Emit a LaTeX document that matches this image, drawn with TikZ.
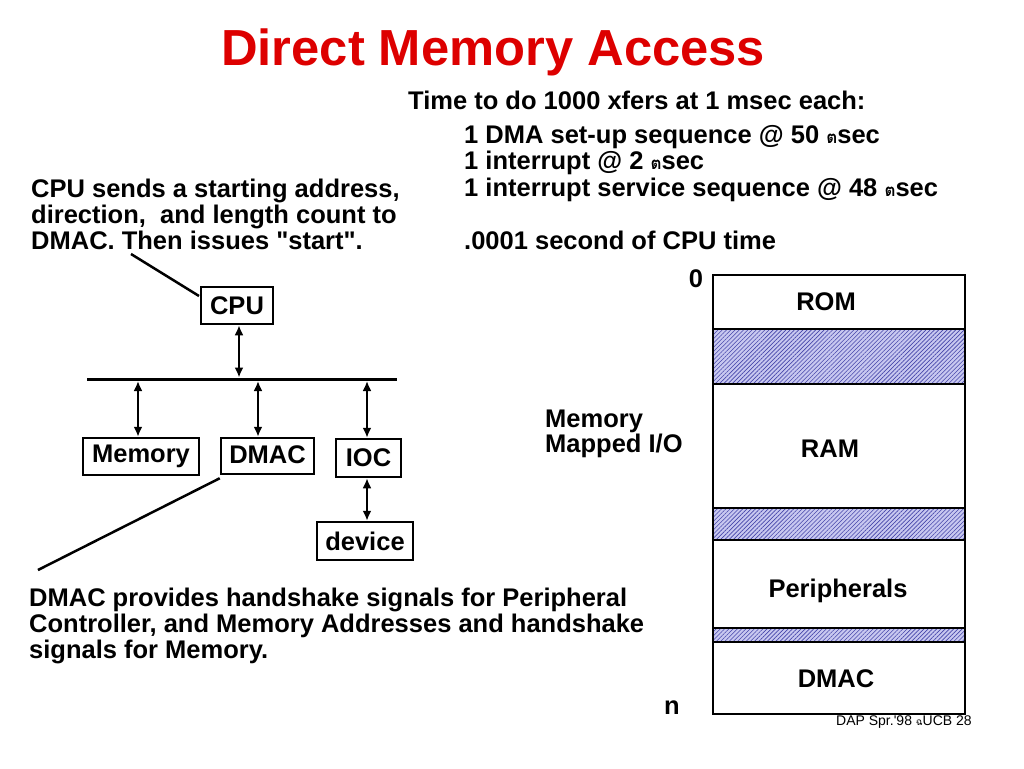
\documentclass[tikz,border=0pt]{standalone}
\usepackage{fontspec}
\setmainfont{Liberation Sans}
\newfontfamily\thaifont[Script=Thai]{Loma}
\usetikzlibrary{arrows.meta,patterns.meta}
\definecolor{titlered}{RGB}{221,0,0}
\definecolor{hatchbg}{RGB}{200,200,240}
\definecolor{hatchln}{RGB}{70,70,170}
\newcommand{\mychar}{{\thaifont\fontsize{17}{17}\selectfont ต}}
\tikzset{
  txt/.style={anchor=base west, inner sep=0pt, font=\bfseries\fontsize{25.5}{26}\selectfont},
  ctxt/.style={anchor=base, inner sep=0pt, font=\bfseries\fontsize{25.5}{26}\selectfont},
  blk/.style={draw, line width=2.5pt, inner sep=0pt, font=\bfseries\fontsize{25.5}{26}\selectfont},
  dbl/.style={line width=2.5pt, {Latex[length=10pt,width=9pt]}-{Latex[length=10pt,width=9pt]}},
  callout/.style={line width=2.5pt},
  hatch/.style={fill=hatchbg, postaction={pattern={Lines[angle=45,distance=3pt,line width=0.6pt]}, pattern color=hatchln}},
  frame/.style={draw, line width=2.5pt}
}
\begin{document}
\begin{tikzpicture}[x=1pt,y=-1pt]
\useasboundingbox[fill=white] (0,0) rectangle (1024,768);

% title
\node[anchor=base west, inner sep=0pt, text=titlered, font=\bfseries\fontsize{50.7}{52}\selectfont] (title) at (221,65) {Direct Memory Access};

% top-right text
\node[txt] (t1) at (408,109) {Time to do 1000 xfers at 1 msec each:};
\node[txt] (t2) at (464,143) {1 DMA set-up sequence @ 50 \mychar sec};
\node[txt] (t3) at (464,169) {1 interrupt @ 2 \mychar sec};
\node[txt] (t4) at (464,196) {1 interrupt service sequence @ 48 \mychar sec};
\node[txt] (t5) at (464,249) {.0001 second of CPU time};

% top-left paragraph
\node[txt] (p1) at (31,197) {CPU sends a starting address,};
\node[txt] (p2) at (31,223) {direction,\ \ and length count to};
\node[txt] (p3) at (31,249) {DMAC. Then issues \textquotedbl start\textquotedbl .};

% bottom paragraph
\node[txt] (q1) at (29,606) {DMAC provides handshake signals for Peripheral};
\node[txt] (q2) at (29,632) {Controller, and Memory Addresses and handshake};
\node[txt] (q3) at (29,658) {signals for Memory.};

% block diagram
\node[blk, minimum width=72pt, minimum height=37pt] (cpu) at (237,305.5) {CPU};
\node[blk, minimum width=116pt, minimum height=37pt] (mem) at (141,456.5) {Memory};
\node[blk, minimum width=93pt, minimum height=36pt] (dmac) at (267.5,456) {\raisebox{3pt}{DMAC}};
\node[blk, minimum width=65pt, minimum height=38pt] (ioc) at (368.5,458) {IOC};
\node[blk, minimum width=96pt, minimum height=38pt] (dev) at (365,541) {device};

\coordinate (busL) at (87,379);
\coordinate (busR) at (397,379);
\draw[line width=3pt] (busL) -- (busR);

\coordinate (bC) at (239,377.5);
\coordinate (bM) at (138,381);
\coordinate (bD) at (258,381);
\coordinate (bI) at (367,381);
\draw[dbl] (bC |- cpu.south) -- (bC);
\draw[dbl] (bM) -- (bM |- mem.north);
\draw[dbl] (bD) -- (bD |- dmac.north);
\draw[dbl] (bI) -- (bI |- ioc.north);
\draw[dbl] (bI |- ioc.south) -- (bI |- dev.north);

% callouts
\coordinate (c1) at (131,254);
\coordinate (c1e) at (199,296);
\draw[callout] (c1) -- (c1e);
\coordinate (c2) at (38,570);
\draw[callout] ([yshift=-3pt]dmac.south west) -- (c2);

% memory map
\fill[hatch] (713,329) rectangle (965,384);
\fill[hatch] (713,508) rectangle (965,540);
\fill[hatch] (713,628) rectangle (965,642);
\draw[frame] (713,275) rectangle (965,714);
\foreach \yy in {329,384,508,540,628,642} \draw[line width=2.5pt] (713,\yy) -- (965,\yy);

\node[ctxt] (rom) at (826,310) {ROM};
\node[ctxt] (ram) at (830,457) {RAM};
\node[ctxt] (per) at (838,597) {Peripherals};
\node[ctxt] (dm2) at (836,687) {DMAC};
\node[ctxt] (zero) at (696,287) {0};
\node[ctxt] (enn) at (672,714) {n};

\node[txt] (mm1) at (545,427) {Memory};
\node[txt] (mm2) at (545,452) {Mapped I/O};

% footer
\node[anchor=base west, inner sep=0pt, font=\fontsize{14}{14}\selectfont] (foot) at (836,725) {DAP Spr.\textquotesingle 98 {\thaifont\fontsize{10}{10}\selectfont ฉ}UCB 28};
\end{tikzpicture}
\end{document}
